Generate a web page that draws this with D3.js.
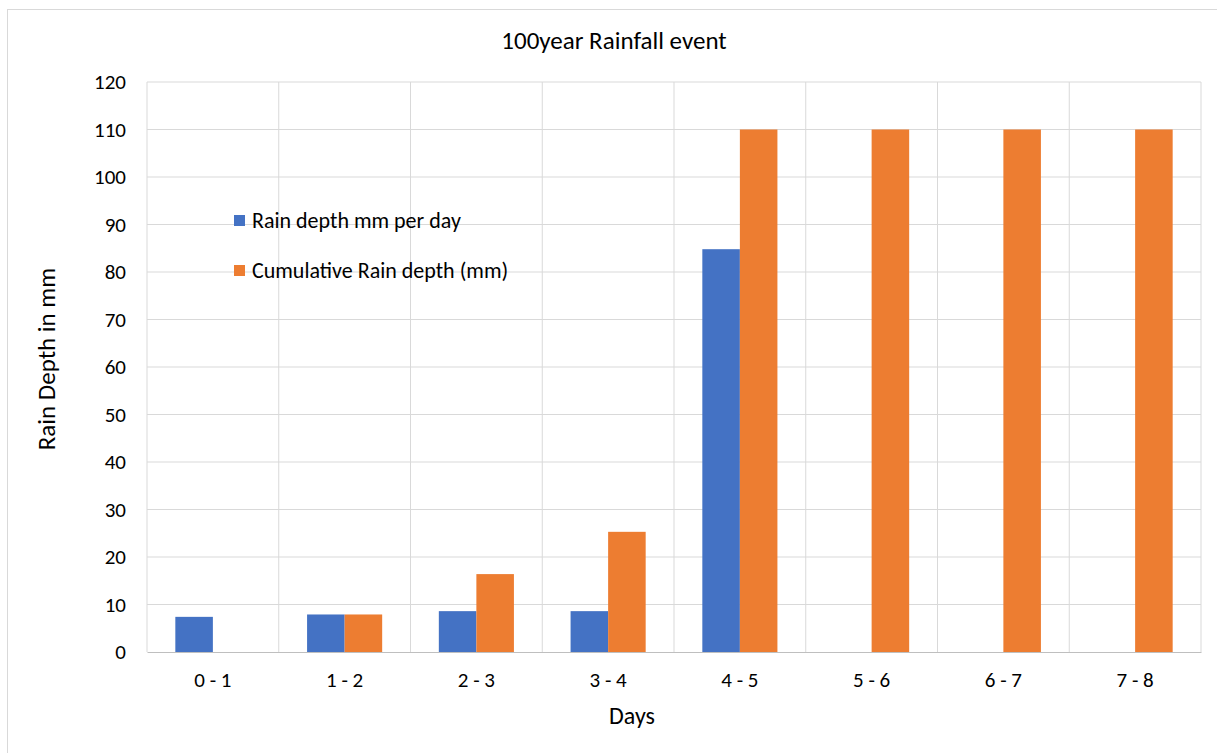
<!DOCTYPE html>
<html lang="en">
<head>
    <meta charset="UTF-8">
    <title>100year Rainfall event</title>
    <script src="https://cdn.jsdelivr.net/npm/d3@7"></script>
    <style>
        body { margin: 0; background: #fff; }
        text { font-family: Carlito, Lato, "Open Sans", sans-serif; fill: #000; }
    </style>
</head>
<body>
<div class="chart"></div>
<script>
    const days = ['0 - 1', '1 - 2', '2 - 3', '3 - 4', '4 - 5', '5 - 6', '6 - 7', '7 - 8']
    const perDay = [7.4, 7.9, 8.6, 8.6, 84.8, null, null, null]
    const cumulative = [null, 7.9, 16.4, 25.3, 110, 110, 110, 110]
    const seriesNames = ['Rain depth mm per day', 'Cumulative Rain depth (mm)']
    const colors = ['#4472c4', '#ed7d31']
    const yTicks = d3.range(0, 121, 10)

    const width = 1217
    const height = 753
    const margin = { top: 82, right: 16, bottom: 101, left: 147 }

    const svg = d3.select('.chart').append('svg')
        .attr('width', width)
        .attr('height', height)

    // chart frame
    svg.append('rect')
        .attr('x', 7.5).attr('y', 9.5)
        .attr('width', 1300).attr('height', 900)
        .attr('fill', 'none')
        .attr('stroke', '#d9d9d9')

    const x0 = d3.scaleBand().domain(days).range([margin.left, width - margin.right])
    const gap = x0.bandwidth() * 0.215
    const x1 = d3.scaleBand().domain([0, 1]).range([gap, x0.bandwidth() - gap])
    const y = d3.scaleLinear().domain([0, 120]).range([height - margin.bottom, margin.top])

    // horizontal grid
    svg.append('g').selectAll('line')
        .data(yTicks.slice(1))
        .join('line')
        .attr('x1', margin.left).attr('x2', width - margin.right)
        .attr('y1', d => y(d)).attr('y2', d => y(d))
        .attr('stroke', '#d9d9d9')
    // vertical grid
    svg.append('g').selectAll('line')
        .data(days.slice(1).concat(['end']))
        .join('line')
        .attr('x1', d => d === 'end' ? width - margin.right : x0(d))
        .attr('x2', d => d === 'end' ? width - margin.right : x0(d))
        .attr('y1', y(120)).attr('y2', y(0))
        .attr('stroke', '#d9d9d9')
    svg.append('line')
        .attr('x1', margin.left).attr('x2', margin.left)
        .attr('y1', y(120)).attr('y2', y(0))
        .attr('stroke', '#d9d9d9')

    // bars
    const groups = svg.append('g').selectAll('g')
        .data(days)
        .join('g')
        .attr('transform', d => `translate(${x0(d)},0)`)
    groups.selectAll('rect')
        .data((d, i) => [perDay[i], cumulative[i]].map((v, s) => ({ v, s })).filter(e => e.v != null))
        .join('rect')
        .attr('x', d => x1(d.s))
        .attr('width', x1.bandwidth())
        .attr('y', d => y(d.v))
        .attr('height', d => y(0) - y(d.v))
        .attr('fill', d => colors[d.s])

    // axes
    const yAxis = svg.append('g')
        .attr('transform', `translate(${margin.left},0)`)
        .call(d3.axisLeft(y).tickValues(yTicks).tickSize(0).tickPadding(21))
    yAxis.select('.domain').remove()
    yAxis.selectAll('text').attr('font-size', 21)

    const xAxis = svg.append('g')
        .attr('transform', `translate(0,${y(0)})`)
        .call(d3.axisBottom(x0).tickSize(0).tickPadding(20))
    xAxis.select('.domain').attr('stroke', '#bfbfbf').attr('stroke-width', 1.2)
    xAxis.selectAll('text').attr('font-size', 21)

    // titles
    svg.append('text')
        .attr('x', 614).attr('y', 49)
        .attr('text-anchor', 'middle')
        .attr('font-size', 25)
        .text('100year Rainfall event')
    svg.append('text')
        .attr('x', 632).attr('y', 724)
        .attr('text-anchor', 'middle')
        .attr('font-size', 24)
        .text('Days')
    svg.append('text')
        .attr('transform', 'translate(55,359) rotate(-90)')
        .attr('text-anchor', 'middle')
        .attr('font-size', 25)
        .text('Rain Depth in mm')

    // legend
    const legend = svg.append('g').selectAll('g')
        .data(seriesNames)
        .join('g')
        .attr('transform', (d, i) => `translate(234,${215 + i * 50})`)
    legend.append('rect')
        .attr('width', 11).attr('height', 11)
        .attr('fill', (d, i) => colors[i])
    legend.append('text')
        .attr('x', 18).attr('y', 13)
        .attr('font-size', 22)
        .text(d => d)
</script>
</body>
</html>
